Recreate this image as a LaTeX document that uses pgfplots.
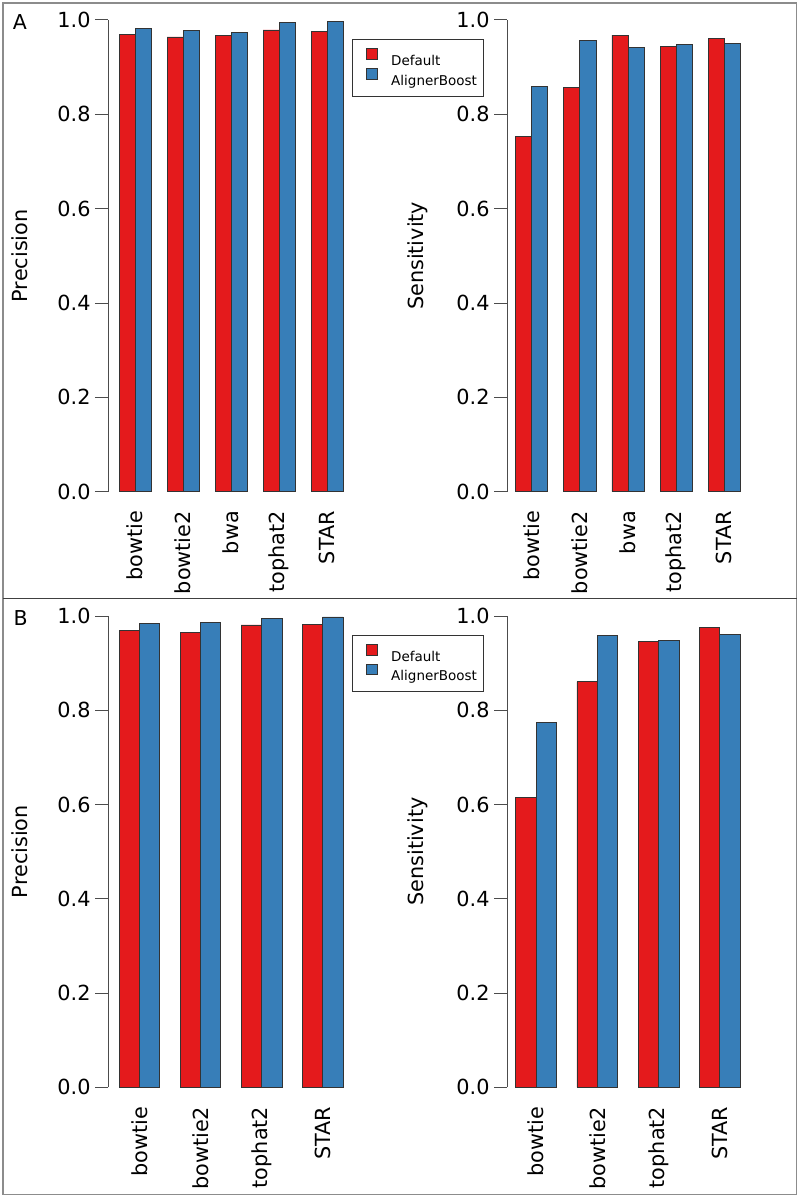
\documentclass[border=0pt]{standalone}
\usepackage{fontspec}
\setmainfont{DejaVu Sans}
\usepackage{pgfplots}
\pgfplotsset{compat=1.18}
\definecolor{cred}{HTML}{E41A1C}
\definecolor{cblue}{HTML}{377EB8}
\definecolor{edge}{HTML}{333333}
\pgfplotsset{
 rstyle/.style={
  scale only axis, clip=false,
  ymin=0, ymax=1,
  axis y line*=left, axis x line*=bottom,
  x axis line style={draw=none},
  y axis line style={draw=black!70, line width=1pt},
  xtick style={draw=none},
  ytick style={draw=black!70, line width=1pt},
  tick align=outside,
  major tick length=13.3pt,
  ytick={0,0.2,0.4,0.6,0.8,1},
  yticklabels={0.0,0.2,0.4,0.6,0.8,1.0},
  tick label style={font=\fontsize{20.8}{24}\selectfont},
  yticklabel style={anchor=east, inner sep=0pt, xshift=-4.3pt},
  xticklabel style={rotate=90, anchor=east, inner sep=0pt, xshift=-6pt},
 },
 ylab/.style={every axis y label/.style={at={(axis description cs:#1,0.5)}, rotate=90, anchor=base, font=\fontsize{20.8}{24}\selectfont}},
 bars/.style={ybar, bar width=1, bar shift=0pt, draw=edge, line width=0.8pt},
 rlegend/.style={
  legend style={at={#1}, anchor=north west, draw=black!80, line width=0.8pt,
   inner xsep=6.7pt, inner ysep=8.5pt, column sep=13.3pt, row sep=0pt,
   font=\fontsize{13.5}{15}\selectfont,
   nodes={inner sep=0pt, text height=15.5pt, text depth=2.5pt}},
  legend cell align=left,
  legend image code/.code={\path (-7pt,0pt); \draw[##1] (0pt,-0.4pt) rectangle (10.7pt,10.3pt);},
 },
}
\begin{document}
\begin{tikzpicture}
\path[use as bounding box] (0,0) rectangle (800pt,-1198pt);
\draw[black!45, line width=1.3pt] (3pt,-3pt) rectangle (796.7pt,-1194.7pt);
\draw[black!75, line width=1.3pt] (3pt,-598.3pt) -- (796.7pt,-598.3pt);
\node[anchor=base west, inner sep=0pt, font=\fontsize{20.5}{24}\selectfont] at (12.7pt,-30pt) {A};
\node[anchor=base west, inner sep=0pt, font=\fontsize{20.5}{24}\selectfont] at (13.3pt,-625.5pt) {B};

% Panel A, precision
\begin{axis}[rstyle, at={(108.3pt,-491.7pt)}, anchor=south west,
  width=245.4pt, height=471.7pt, xmin=0.331, xmax=15.669,
  xtick={2,5,8,11,14}, xticklabels={bowtie,bowtie2,bwa,tophat2,STAR},
  ylabel={Precision}, ylab=-0.3293,
  rlegend={(0.9943,0.959)}]
\addplot[bars, fill=cred] coordinates {(1.5,0.970) (4.5,0.964) (7.5,0.968) (10.5,0.979) (13.5,0.975)};
\addplot[bars, fill=cblue] coordinates {(2.5,0.982) (5.5,0.978) (8.5,0.974) (11.5,0.994) (14.5,0.996)};
\legend{Default,AlignerBoost}
\end{axis}

% Panel A, sensitivity
\begin{axis}[rstyle, at={(507.3pt,-491.7pt)}, anchor=south west,
  width=241.4pt, height=471.7pt, xmin=0.476, xmax=15.524,
  xtick={2,5,8,11,14}, xticklabels={bowtie,bowtie2,bwa,tophat2,STAR},
  ylabel={Sensitivity}, ylab=-0.3471]
\addplot[bars, fill=cred] coordinates {(1.5,0.753) (4.5,0.857) (7.5,0.968) (10.5,0.943) (13.5,0.961)};
\addplot[bars, fill=cblue] coordinates {(2.5,0.859) (5.5,0.957) (8.5,0.942) (11.5,0.948) (14.5,0.951)};
\end{axis}

% Panel B, precision
\begin{axis}[rstyle, at={(108.3pt,-1087.3pt)}, anchor=south west,
  width=245.4pt, height=471.3pt, xmin=0.4745, xmax=12.5255,
  xtick={2,5,8,11}, xticklabels={bowtie,bowtie2,tophat2,STAR},
  ylabel={Precision}, ylab=-0.3293,
  rlegend={(0.9943,0.9597)}]
\addplot[bars, fill=cred] coordinates {(1.5,0.970) (4.5,0.966) (7.5,0.981) (10.5,0.982)};
\addplot[bars, fill=cblue] coordinates {(2.5,0.985) (5.5,0.987) (8.5,0.994) (11.5,0.998)};
\legend{Default,AlignerBoost}
\end{axis}

% Panel B, sensitivity
\begin{axis}[rstyle, at={(507.3pt,-1087.3pt)}, anchor=south west,
  width=241.4pt, height=471.3pt, xmin=0.589, xmax=12.411,
  xtick={2,5,8,11}, xticklabels={bowtie,bowtie2,tophat2,STAR},
  ylabel={Sensitivity}, ylab=-0.3471]
\addplot[bars, fill=cred] coordinates {(1.5,0.615) (4.5,0.861) (7.5,0.946) (10.5,0.976)};
\addplot[bars, fill=cblue] coordinates {(2.5,0.775) (5.5,0.958) (8.5,0.948) (11.5,0.961)};
\end{axis}
\end{tikzpicture}
\end{document}
